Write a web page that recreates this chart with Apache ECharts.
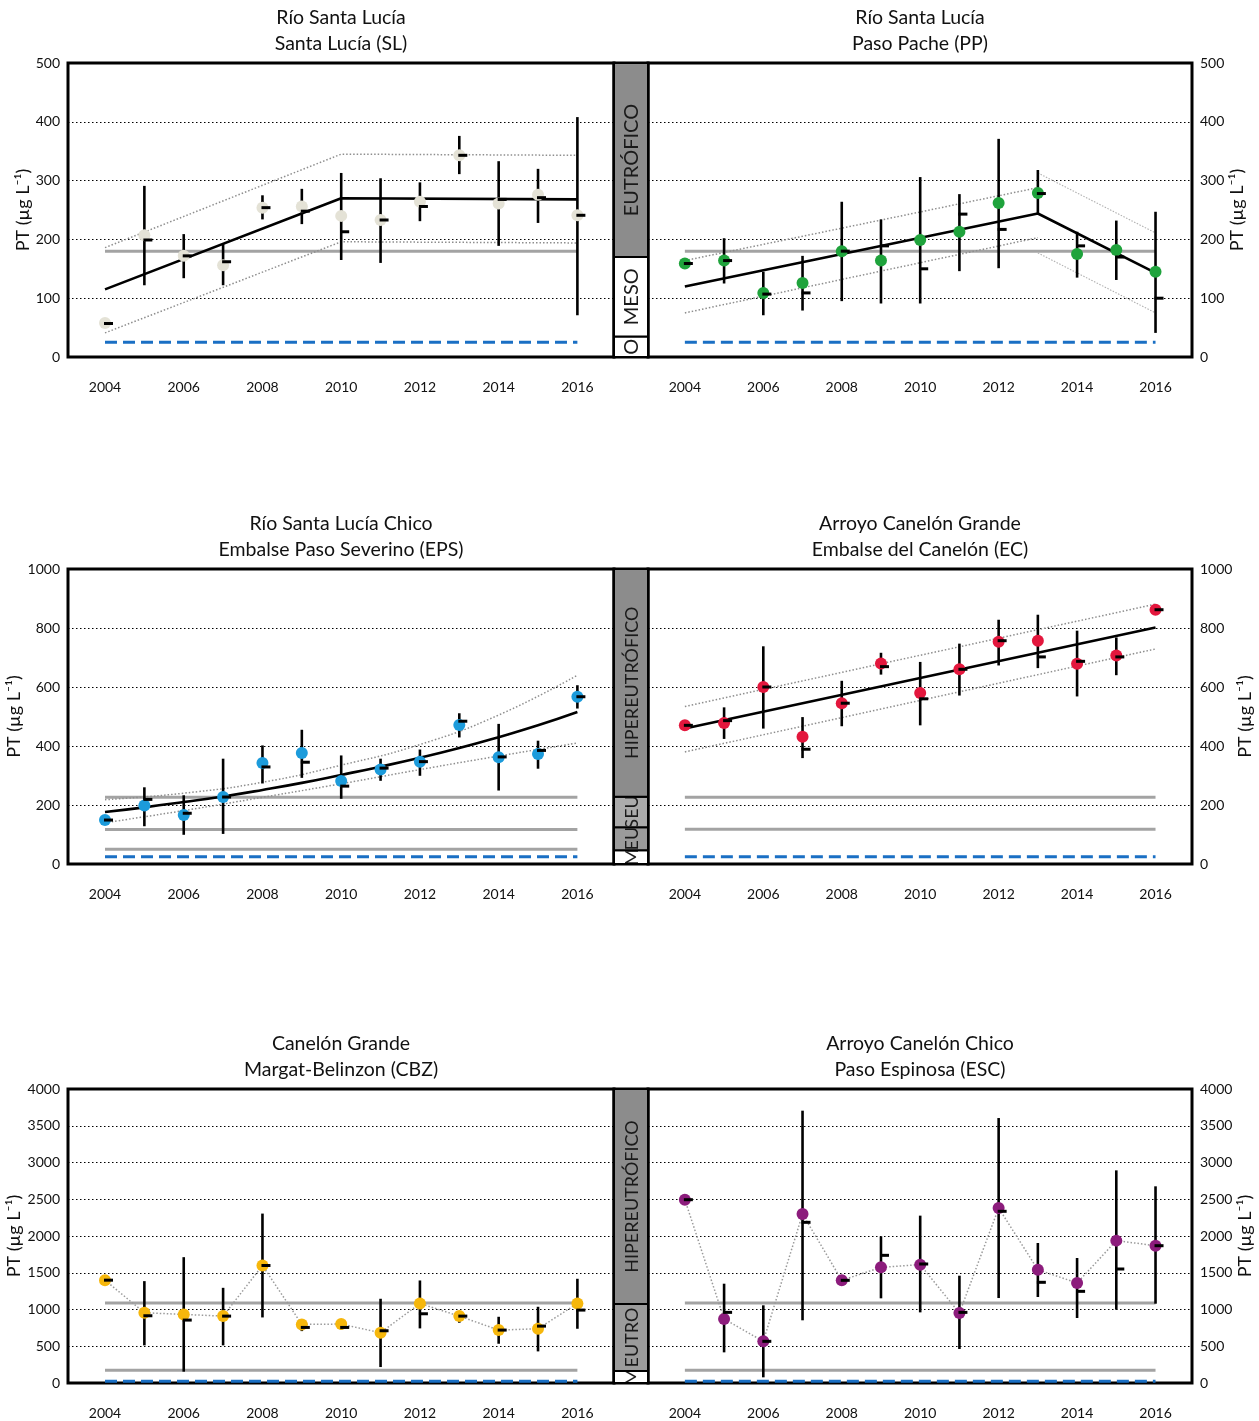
<!DOCTYPE html>
<html>
<head>
<meta charset="utf-8">
<script src="https://cdn.jsdelivr.net/npm/echarts@6/dist/echarts.min.js"></script>
<style>
  html, body { margin: 0; background: #fff; }
  #chart { width: 1259px; height: 1421px; }
</style>
</head>
<body>
<div id="chart"></div>
<script>
// ---- data ----
var years = [2004, 2005, 2006, 2007, 2008, 2009, 2010, 2011, 2012, 2013, 2014, 2015, 2016];
var yearTicks = [2004, 2006, 2008, 2010, 2012, 2014, 2016];

// Santa Lucía (SL)
var slMean = [58, 207, 172, 156, 254, 256, 240, 233, 264, 343, 261, 276, 241];
var slLow = [null, 122, 134, 122, 234, 226, 165, 160, 231, 311, 189, 228, 71];
var slHigh = [null, 291, 209, 192, 275, 286, 313, 304, 297, 376, 333, 320, 408];
var slMedian = [57, 199, 172, 162, 254, 248, 213, 233, 256, 343, 268, 271, 241];
var slTrendYears = [2004, 2010, 2016];
var slTrend = [115, 270, 268];
var slUpper = [186, 345, 343];
var slLower = [41, 196, 194];

// Paso Pache (PP)
var ppMean = [159, 164, 109, 126, 180, 164, 199, 213, 262, 279, 175, 182, 145];
var ppLow = [null, 125, 71, 79, 95, 91, 91, 146, 151, 244, 135, 131, 41];
var ppHigh = [null, 202, 145, 172, 264, 234, 306, 277, 371, 318, 213, 232, 247];
var ppMedian = [159, 164, 107, 109, 180, 189, 150, 243, 217, 278, 189, 170, 100];
var ppTrendYears = [2004, 2013, 2016];
var ppTrend = [120, 244, 143];
var ppUpperA = [164, 288];
var ppLowerA = [75, 203];
var ppUpperB = [313, 211];
var ppLowerB = [177, 75];

// Embalse Paso Severino (EPS)
var epsMean = [149, 198, 166, 227, 342, 376, 281, 320, 347, 471, 362, 373, 567];
var epsLow = [null, 128, 99, 102, 273, 292, 221, 282, 299, 429, 249, 323, 527];
var epsHigh = [null, 260, 233, 357, 402, 455, 368, 357, 388, 511, 475, 418, 606];
var epsMedian = [149, 219, 172, 227, 329, 345, 264, 325, 347, 484, 363, 385, 567];
var epsTrend = [176, 192, 210, 229, 251, 275, 302, 330, 360, 393, 430, 470, 515];
var epsBandYears = [2004, 2006, 2008, 2010, 2012, 2014, 2016];
var epsUpper = [218, 240, 277, 335, 405, 505, 640];
var epsLower = [140, 181, 226, 272, 320, 366, 410];

// Embalse del Canelón (EC)
var ecMean = [470, 478, 600, 431, 545, 680, 580, 660, 753, 757, 679, 707, 862];
var ecLow = [null, 424, 459, 359, 467, 642, 470, 571, 673, 664, 568, 640, null];
var ecHigh = [null, 531, 738, 498, 621, 716, 685, 747, 828, 845, 791, 768, null];
var ecMedian = [470, 486, 600, 389, 545, 669, 560, 660, 757, 702, 687, 702, 862];
var ecTrendYears = [2004, 2016];
var ecTrend = [459, 802];
var ecUpper = [534, 881];
var ecLower = [380, 729];

// Margat-Belinzon (CBZ)
var cbzMean = [1399, 956, 933, 910, 1599, 797, 802, 684, 1082, 910, 720, 738, 1082];
var cbzLow = [null, 512, 154, 512, 892, 706, 729, 217, 743, 820, 534, 430, 738];
var cbzHigh = [null, 1386, 1712, 1295, 2305, 865, 865, 1146, 1395, 978, 901, 1037, 1418];
var cbzMedian = [1399, 915, 856, 910, 1599, 756, 756, 711, 942, 910, 720, 774, 992];

// Paso Espinosa (ESC)
var escMean = [2494, 871, 567, 2299, 1397, 1574, 1610, 952, 2381, 1542, 1361, 1937, 1868];
var escLow = [null, 417, 77, 853, null, 1152, 961, 463, 1156, 1170, 884, 998, 1079];
var escHigh = [null, 1351, 1057, 3705, null, 1995, 2277, 1460, 3605, 1905, 1701, 2893, 2676];
var escMedian = [2494, 961, 567, 2186, 1397, 1737, 1619, 961, 2336, 1370, 1247, 1551, 1868];

// reference levels
var row1Limits = [180];
var epsLimits = [226, 117, 50];
var ecLimits = [226, 118];
var cbzLimits = [1090, 172];
var escLimits = [1088, 172];
var targetLevel = 25;

// trophic state strips [from, to, label]
var stripRow1 = [[0, 35, 'O'], [35, 170, 'MESO'], [170, 500, 'EUTRÓFICO']];
var stripRow2 = [[0, 47, 'M'], [47, 125, 'EU'], [125, 228, 'SEU'], [228, 1000, 'HIPEREUTRÓFICO']];
var stripRow3 = [[0, 163, 'M'], [163, 1075, 'EUTRO'], [1075, 4000, 'HIPEREUTRÓFICO']];

// ---- styling ----
var stripFill = { 'O': '#ffffff', 'MESO': '#ffffff', 'M': '#ffffff', 'EU': '#9b9b9b', 'SEU': '#ababab', 'EUTRO': '#9b9b9b', 'EUTRÓFICO': '#8c8c8c', 'HIPEREUTRÓFICO': '#8c8c8c' };
var FONT = 'Lato';

var rows = [
  { top: 63, height: 294, max: 500, step: 100, strip: stripRow1, stripFont: 20 },
  { top: 569, height: 295, max: 1000, step: 200, strip: stripRow2, stripFont: 18 },
  { top: 1089, height: 294, max: 4000, step: 500, strip: stripRow3, stripFont: 18 }
];
var cols = [{ left: 68, width: 546 }, { left: 648, width: 544 }];

function pairs(xs, ys) {
  return xs.map(function (x, i) { return [x, ys[i]]; });
}

var panels = [
  { title: 'Río Santa Lucía\nSanta Lucía (SL)', color: '#e4e2d6', mean: slMean, low: slLow, high: slHigh, median: slMedian, limits: row1Limits,
    trends: [pairs(slTrendYears, slTrend)], bands: [pairs(slTrendYears, slUpper), pairs(slTrendYears, slLower)], faint: [] },
  { title: 'Río Santa Lucía\nPaso Pache (PP)', color: '#1fa33c', mean: ppMean, low: ppLow, high: ppHigh, median: ppMedian, limits: row1Limits,
    trends: [pairs(ppTrendYears, ppTrend)],
    bands: [pairs([2004, 2013], ppUpperA), pairs([2004, 2013], ppLowerA)],
    faint: [pairs([2013, 2016], ppUpperB), pairs([2013, 2016], ppLowerB)] },
  { title: 'Río Santa Lucía Chico\nEmbalse Paso Severino (EPS)', color: '#1c9bdb', mean: epsMean, low: epsLow, high: epsHigh, median: epsMedian, limits: epsLimits,
    trends: [pairs(years, epsTrend)], smooth: true,
    bands: [pairs(epsBandYears, epsUpper), pairs(epsBandYears, epsLower)], faint: [] },
  { title: 'Arroyo Canelón Grande\nEmbalse del Canelón (EC)', color: '#e3173d', mean: ecMean, low: ecLow, high: ecHigh, median: ecMedian, limits: ecLimits,
    trends: [pairs(ecTrendYears, ecTrend)], bands: [pairs(ecTrendYears, ecUpper), pairs(ecTrendYears, ecLower)], faint: [] },
  { title: 'Canelón Grande\nMargat-Belinzon (CBZ)', color: '#f6b70c', mean: cbzMean, low: cbzLow, high: cbzHigh, median: cbzMedian, limits: cbzLimits,
    trends: [], bands: [], faint: [], connect: true },
  { title: 'Arroyo Canelón Chico\nPaso Espinosa (ESC)', color: '#8c1c7c', mean: escMean, low: escLow, high: escHigh, median: escMedian, limits: escLimits,
    trends: [], bands: [], faint: [], connect: true }
];

function plain(v) { return String(v); }

function renderBar(params, api) {
  var a = api.coord([api.value(0), api.value(1)]);
  var b = api.coord([api.value(0), api.value(2)]);
  return { type: 'line', shape: { x1: a[0], y1: a[1], x2: b[0], y2: b[1] }, style: { stroke: '#000', lineWidth: 2.6 } };
}
function renderMedian(params, api) {
  var p = api.coord([api.value(0), api.value(1)]);
  return { type: 'line', shape: { x1: p[0] - 1, y1: p[1], x2: p[0] + 8, y2: p[1] }, style: { stroke: '#000', lineWidth: 3 } };
}
function stripRenderer(bands, fontSize) {
  return function (params, api) {
    var band = bands[params.dataIndex];
    var p0 = api.coord([0, band[0]]);
    var p1 = api.coord([1, band[1]]);
    var x = p0[0], y = p1[1], w = p1[0] - p0[0], h = p0[1] - p1[1];
    return {
      type: 'group',
      children: [
        { type: 'rect', shape: { x: x, y: y, width: w, height: h }, style: { fill: stripFill[band[2]], stroke: '#000', lineWidth: 2 } },
        { type: 'text', x: x + w / 2 + 1, y: y + h / 2, rotation: Math.PI / 2,
          style: { text: band[2], fill: '#1a1a1a', fontSize: fontSize, fontFamily: FONT, align: 'center', verticalAlign: 'middle' },
          clipPath: { type: 'rect', shape: { x: -h / 2 + 1, y: -w / 2, width: h - 2, height: w } } }
      ]
    };
  };
}

var grid = [], xAxis = [], yAxis = [], series = [], title = [];

rows.forEach(function (row, r) {
  // two panels + the strip between them
  cols.forEach(function (col, c) {
    var gi = r * 3 + c;
    grid.push({ left: col.left, top: row.top, width: col.width, height: row.height, show: true, borderColor: '#000', borderWidth: 3, backgroundColor: 'transparent' });
    xAxis.push({
      type: 'value', gridIndex: gi, min: 2003.06, max: 2016.93,
      axisLine: { show: false }, axisTick: { show: false }, splitLine: { show: false },
      axisLabel: { customValues: yearTicks, margin: 23, fontSize: 14, color: '#111', fontFamily: FONT, formatter: plain }
    });
    yAxis.push({
      type: 'value', gridIndex: gi, min: 0, max: row.max, interval: row.step,
      position: c === 0 ? 'left' : 'right',
      name: 'PT (µg L⁻¹)', nameLocation: 'middle', nameGap: 35, nameRotate: 90,
      nameTextStyle: { fontSize: 18, color: '#111', fontFamily: FONT },
      axisLine: { show: false }, axisTick: { show: false },
      axisLabel: { margin: 8, fontSize: 14, color: '#111', fontFamily: FONT, formatter: plain },
      splitLine: { show: true, lineStyle: { color: '#000', width: 1.2, type: [1.5, 2.5] } }
    });
  });
  var si = r * 3 + 2;
  grid.push({ left: 614, top: row.top, width: 34, height: row.height, show: true, borderColor: '#000', borderWidth: 3, backgroundColor: '#fff' });
  xAxis.push({ type: 'value', gridIndex: si, min: 0, max: 1, show: false });
  yAxis.push({ type: 'value', gridIndex: si, min: 0, max: row.max, show: false });
  series.push({
    type: 'custom', xAxisIndex: si, yAxisIndex: si, silent: true, z: 10,
    data: row.strip.map(function (b) { return [0, b[0], b[1]]; }),
    renderItem: stripRenderer(row.strip, row.stripFont)
  });
});

panels.forEach(function (p, i) {
  var r = Math.floor(i / 2), c = i % 2;
  var gi = r * 3 + c;
  var col = cols[c], row = rows[r];
  title.push({
    text: p.title, left: col.left + col.width / 2, textAlign: 'center', top: row.top - 58, padding: 0,
    textStyle: { fontSize: 19.5, fontWeight: 'normal', color: '#111', lineHeight: 26, fontFamily: FONT }
  });
  function line(data, style, z, smooth) {
    series.push({ type: 'line', xAxisIndex: gi, yAxisIndex: gi, data: data, symbol: 'none', silent: true, smooth: !!smooth, lineStyle: style, z: z });
  }
  p.limits.forEach(function (v) {
    line([[2004, v], [2016, v]], { color: '#a3a3a3', width: 3 }, 2);
  });
  line([[2004, targetLevel], [2016, targetLevel]], { color: '#1a6fc4', width: 3, type: [12, 6] }, 2);
  p.bands.forEach(function (b) {
    line(b, { color: '#8e8e8e', width: 1.5, type: [1.5, 2] }, 3, p.smooth);
  });
  p.faint.forEach(function (b) {
    line(b, { color: '#b0b0b0', width: 1.1, type: [1.5, 1.5] }, 3);
  });
  p.trends.forEach(function (t) {
    line(t, { color: '#000', width: 2.6 }, 4, p.smooth);
  });
  if (p.connect) {
    line(pairs(years, p.mean), { color: '#9a9a9a', width: 1.5, type: [1.5, 2] }, 3);
  }
  var bars = [];
  years.forEach(function (y, k) {
    if (p.low[k] != null) bars.push([y, p.low[k], p.high[k]]);
  });
  series.push({ type: 'custom', xAxisIndex: gi, yAxisIndex: gi, silent: true, z: 5, data: bars, renderItem: renderBar });
  series.push({ type: 'scatter', xAxisIndex: gi, yAxisIndex: gi, silent: true, z: 6, data: pairs(years, p.mean), symbolSize: 12, itemStyle: { color: p.color, opacity: 1 } });
  series.push({ type: 'custom', xAxisIndex: gi, yAxisIndex: gi, silent: true, z: 7, data: pairs(years, p.median), renderItem: renderMedian });
});

var chart = echarts.init(document.getElementById('chart'));
chart.setOption({
  animation: false,
  backgroundColor: '#fff',
  textStyle: { fontFamily: FONT },
  title: title,
  grid: grid,
  xAxis: xAxis,
  yAxis: yAxis,
  series: series
});
</script>
</body>
</html>
